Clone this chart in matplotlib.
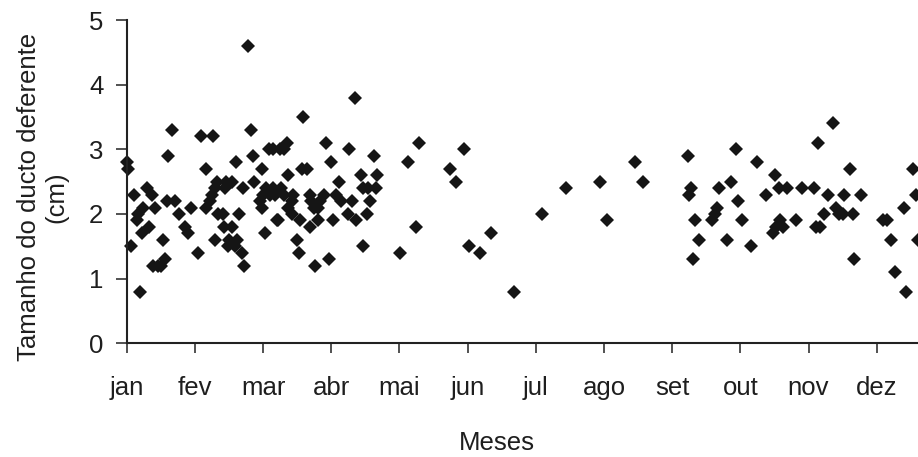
import matplotlib
matplotlib.use("Agg")
import matplotlib.pyplot as plt

plt.rcParams['font.family'] = ['Liberation Sans', 'DejaVu Sans']

months = ["jan", "fev", "mar", "abr", "mai", "jun", "jul", "ago", "set", "out", "nov", "dez"]
yticks = [0, 1, 2, 3, 4, 5]

# x = position in months (0 = start of jan axis tick), y = size (cm)
mes = [
    0.00, 0.02, 0.11, 0.06, 0.15, 0.17, 0.24, 0.22, 0.20, 0.30, 0.37, 0.33, 0.42, 0.39, 0.46, 0.50,
    0.56, 0.53, 0.61, 0.66, 0.59, 0.71, 0.77, 0.86, 0.90, 0.94, 1.04, 1.09, 1.26, 1.17, 1.16, 1.22,
    1.25, 1.30, 1.33, 1.30, 1.34, 1.41, 1.44, 1.46, 1.54, 1.43, 1.54, 1.50, 1.62, 1.49, 1.59, 1.69,
    1.72, 1.65, 1.61, 1.70, 1.78, 1.82, 1.85, 1.87, 1.98, 1.96, 1.99, 2.03, 2.00, 2.04, 2.08, 2.15,
    2.25, 2.30, 2.35, 2.10, 2.14, 2.20, 2.22, 2.18, 2.27, 2.30, 2.37, 2.37, 2.42, 2.43, 2.44, 2.50,
    2.53, 2.54, 2.58, 2.57, 2.64, 2.69, 2.69, 2.70, 2.76, 2.75, 2.81, 2.81, 2.84, 2.89, 2.93, 2.96,
    2.99, 3.02, 3.07, 3.12, 3.14, 3.24, 3.26, 3.30, 3.35, 3.37, 3.43, 3.46, 3.47, 3.52, 3.57, 3.54,
    3.63, 3.67, 3.66, 4.01,
    4.12, 4.25, 4.29, 4.74, 4.83, 4.94, 5.02, 5.18, 5.35, 5.68, 6.09, 6.44, 6.94, 7.05, 7.46, 7.57,
    8.23, 8.28, 8.25, 8.34, 8.39, 8.31, 8.58, 8.63, 8.66, 8.69, 8.80, 8.86, 8.94, 8.97, 9.02, 9.16,
    9.24, 9.38, 9.51, 9.57, 9.68, 9.48, 9.53, 9.58, 9.62, 9.82, 9.90, 10.08, 10.11, 10.17, 10.14, 10.23,
    10.29, 10.36, 10.41, 10.45, 10.50, 10.52, 10.61, 10.65, 10.67, 10.77, 11.09, 11.15, 11.21, 11.27,
    11.43, 11.40, 11.53, 11.57, 11.61,
]
tamanho = [
    2.8, 2.7, 2.3, 1.5, 1.9, 2.0, 2.1, 1.7, 0.8, 2.4, 2.3, 1.8, 2.1, 1.2, 1.2, 1.2,
    1.3, 1.6, 2.9, 3.3, 2.2, 2.2, 2.0, 1.8, 1.7, 2.1, 1.4, 3.2, 3.2, 2.7, 2.1, 2.2,
    2.3, 2.4, 2.5, 1.6, 2.0, 2.0, 2.4, 2.5, 2.5, 1.8, 1.8, 1.6, 1.6, 1.5, 1.5, 1.4,
    1.2, 2.0, 2.8, 2.4, 4.6, 3.3, 2.9, 2.5, 2.7, 2.2, 2.1, 1.7, 2.3, 2.4, 3.0, 3.0,
    3.0, 3.0, 3.1, 2.3, 2.4, 1.9, 1.9, 2.3, 2.4, 2.3, 2.6, 2.1, 2.0, 2.2, 2.3, 1.6,
    1.4, 1.9, 3.5, 2.7, 2.7, 2.3, 1.8, 2.2, 1.2, 2.1, 2.1, 1.9, 2.2, 2.3, 3.1, 1.3,
    2.8, 1.9, 2.3, 2.5, 2.2, 2.0, 3.0, 2.2, 3.8, 1.9, 2.6, 1.5, 2.4, 2.0, 2.2, 2.4,
    2.9, 2.6, 2.4, 1.4,
    2.8, 1.8, 3.1, 2.7, 2.5, 3.0, 1.5, 1.4, 1.7, 0.8, 2.0, 2.4, 2.5, 1.9, 2.8, 2.5,
    2.9, 2.4, 2.3, 1.9, 1.6, 1.3, 1.9, 2.0, 2.1, 2.4, 1.6, 2.5, 3.0, 2.2, 1.9, 1.5,
    2.8, 2.3, 2.6, 2.4, 2.4, 1.7, 1.8, 1.9, 1.8, 1.9, 2.4, 2.4, 1.8, 1.8, 3.1, 2.0,
    2.3, 3.4, 2.1, 2.0, 2.0, 2.3, 2.7, 2.0, 1.3, 2.3, 1.9, 1.9, 1.6, 1.1,
    0.8, 2.1, 2.7, 2.3, 1.6,
]

TXT = "#1e1e1e"
FS = 18.5

fig = plt.figure(figsize=(9.18, 4.57), dpi=100)
ax = fig.add_axes([0.138, 0.2488, 0.862, 0.7074])

ax.plot(mes, tamanho, linestyle="none", marker="D", markersize=7.2,
        color="#151515", markeredgewidth=0, clip_on=False)

ax.set_xlim(0, 11.606)
ax.set_ylim(0, 5)
ax.set_xticks(range(len(months)))
ax.set_xticklabels(months)
ax.set_yticks(yticks)
ax.set_yticklabels([str(v) for v in yticks])

for s in ["top", "right"]:
    ax.spines[s].set_visible(False)
for s in ["left", "bottom"]:
    ax.spines[s].set_linewidth(1.5)
    ax.spines[s].set_color("#222222")

ax.tick_params(axis="x", direction="out", length=7.2, width=1.1, color="#222222",
               labelsize=FS, labelcolor=TXT, pad=16)
ax.tick_params(axis="y", direction="out", length=7.8, width=1.1, color="#222222",
               labelsize=FS, labelcolor=TXT, pad=9)

fig.text(0.0463, 0.569, "Tamanho do ducto deferente\n(cm)", rotation=90,
         ha="center", va="center", multialignment="center", fontsize=FS, color=TXT,
         linespacing=1.15)
fig.text(0.541, 0.0153, "Meses", ha="center", va="baseline", fontsize=FS, color=TXT)

fig.savefig("out.png", dpi=100)
